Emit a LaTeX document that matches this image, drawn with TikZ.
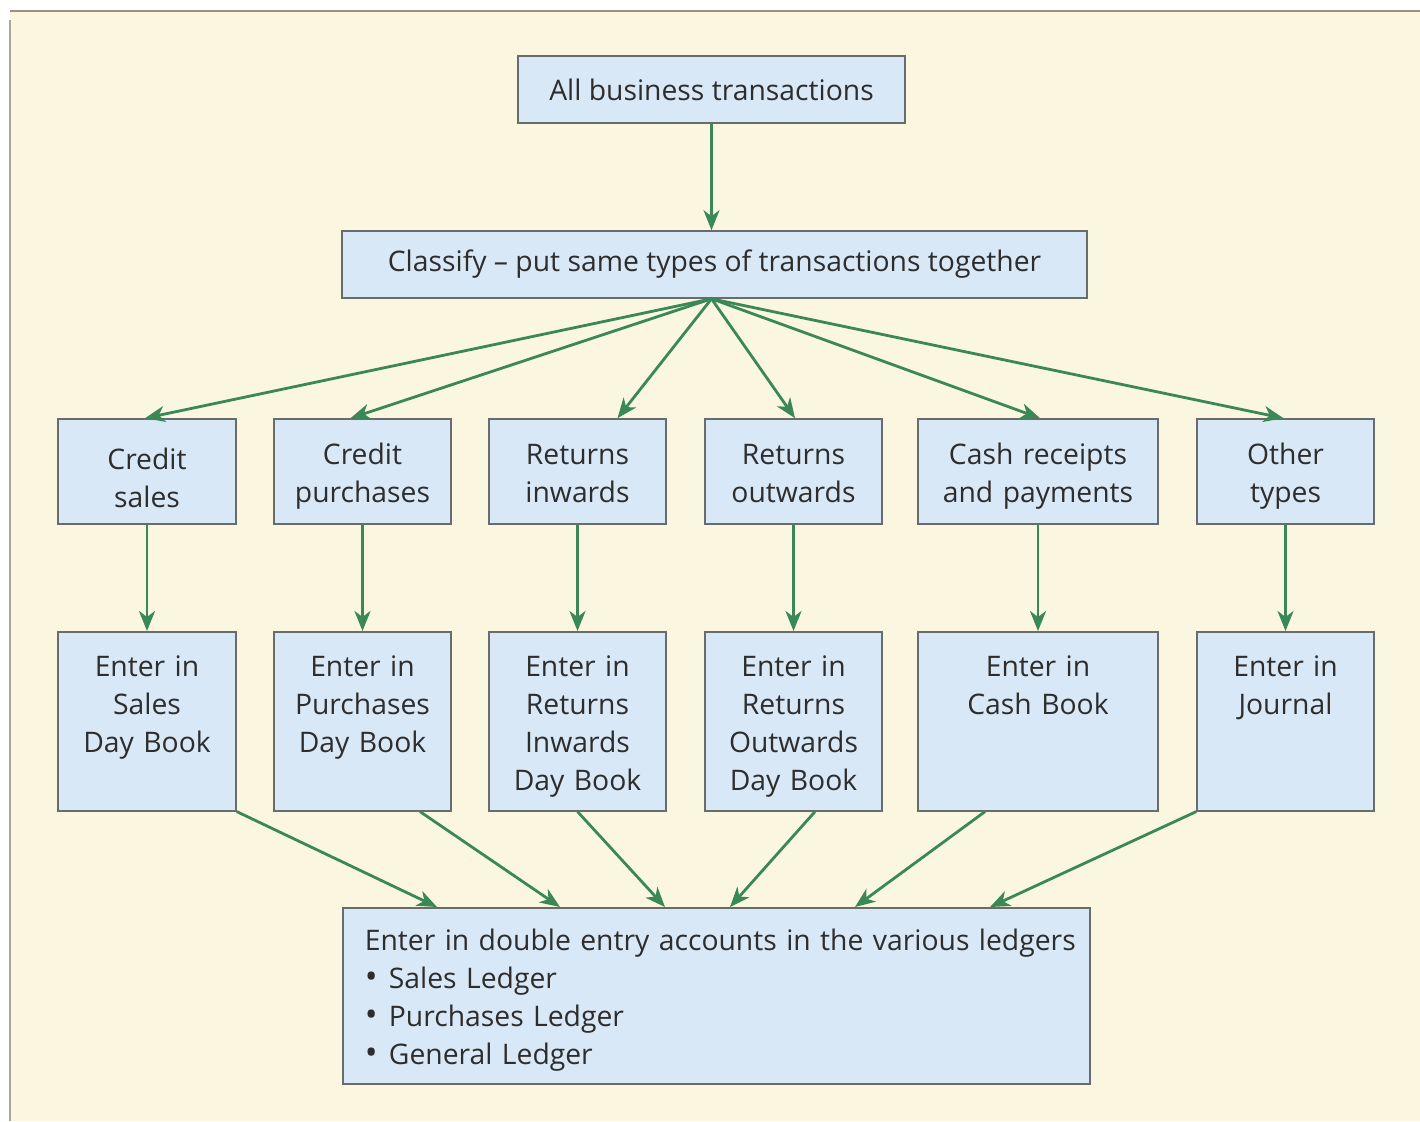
\documentclass[tikz,border=0pt]{standalone}
\usepackage{fontspec}
\setmainfont{Open Sans}
\usetikzlibrary{arrows.meta,calc}
\definecolor{cream}{RGB}{251,246,223}
\definecolor{panelline}{RGB}{150,145,128}
\definecolor{boxfill}{RGB}{216,232,247}
\definecolor{boxline}{RGB}{105,108,108}
\definecolor{flowgreen}{RGB}{58,136,86}
\definecolor{ink}{RGB}{45,45,45}
\newcommand{\ledgerdot}{{\fontsize{34}{38}\selectfont\textbullet}\hspace{0.4em}}
\begin{document}
\begin{tikzpicture}[x=1pt,y=-1pt,
  box/.style={draw=boxline, fill=boxfill, line width=1.6pt, text=ink,
    font=\fontsize{28.3}{38}\selectfont, align=center, inner sep=0pt},
  kind/.style={box, text height=26pt, text depth=41pt, inner ysep=19pt},
  book/.style={box, anchor=north, text height=45pt, text depth=134pt},
  flow/.style={draw=flowgreen, line width=2.8pt,
    -{Stealth[length=20pt,width=16pt,inset=6pt]}}]
\useasboundingbox (0,0) rectangle (1420,1121);
% panel
\fill[white] (0,0) rectangle (1420,1121);
\fill[cream] (10,11) rectangle (1420,1121);
\draw[panelline, line width=2pt] (10,11) -- (1420,11);
\draw[panelline!80, line width=2pt] (10,20) -- (10,1121);

% top of the flow
\node[box, minimum width=387pt, minimum height=67pt] (all) at (711.5,89.5) {All business transactions};
\node[box, minimum width=745pt, minimum height=67pt] (cls) at (714.5,264.5) {Classify -- put same types of transactions together};

% kinds of transaction
\node[kind, text width=178pt, text height=31pt, text depth=36pt] (cs) at (147,471.5) {Credit\\sales};
\node[kind, text width=177pt] (cp) at (362.5,471.5) {Credit\\purchases};
\node[kind, text width=177pt] (ri) at (577.5,471.5) {Returns\\inwards};
\node[kind, text width=177pt] (ro) at (793.5,471.5) {Returns\\outwards};
\node[kind, text width=240pt] (cr) at (1038,471.5) {Cash receipts\\and payments};
\node[kind, text width=177pt] (ot) at (1285.5,471.5) {Other\\types};

% books of original entry
\node[book, text width=178pt] (csb) at (147,631) {Enter in\\Sales\\Day Book};
\node[book, text width=177pt] (cpb) at (362.5,631) {Enter in\\Purchases\\Day Book};
\node[book, text width=177pt] (rib) at (577.5,631) {Enter in\\Returns\\Inwards\\Day Book};
\node[book, text width=177pt] (rob) at (793.5,631) {Enter in\\Returns\\Outwards\\Day Book};
\node[book, text width=240pt] (crb) at (1038,631) {Enter in\\Cash Book};
\node[book, text width=177pt] (otb) at (1285.5,631) {Enter in\\Journal};

% ledgers
\node[box, anchor=north west, align=left, text width=703pt, inner xsep=22pt,
  text height=43pt, text depth=133pt] (led) at (342,907)
  {\mbox{Enter in double entry accounts in the various ledgers}\\
   \ledgerdot Sales Ledger\\
   \ledgerdot Purchases Ledger\\
   \ledgerdot General Ledger};

% connectors
\draw[flow] (all.south) -- (all.south |- cls.north);
\coordinate (fan) at (all.south |- cls.south);
\draw[flow] (fan) -- ($(cs.north)+(-2,0)$);
\draw[flow] (fan) -- ($(cp.north)+(-12,0)$);
\draw[flow] (fan) -- ($(ri.north)+(40,0)$);
\draw[flow] (fan) -- ($(ro.north)+(1.5,0)$);
\draw[flow] (fan) -- ($(cr.north)+(2,0)$);
\draw[flow] (fan) -- ($(ot.north)+(-2,0)$);

\draw[flow] (cs) -- (csb);
\draw[flow] (cp) -- (cpb);
\draw[flow] (ri) -- (rib);
\draw[flow] (ro) -- (rob);
\draw[flow] (cr) -- (crb);
\draw[flow] (ot) -- (otb);

\draw[flow] (csb.south east) -- ($(led.north west)+(95,0)$);
\draw[flow] ($(cpb.south)+(57.5,0)$) -- ($(led.north west)+(218,0)$);
\draw[flow] (rib.south) -- ($(led.north west)+(323,0)$);
\draw[flow] ($(rob.south)+(21.5,0)$) -- ($(led.north west)+(388,0)$);
\draw[flow] ($(crb.south)+(-53,0)$) -- ($(led.north west)+(513,0)$);
\draw[flow] (otb.south west) -- ($(led.north west)+(648,0)$);
\end{tikzpicture}
\end{document}
